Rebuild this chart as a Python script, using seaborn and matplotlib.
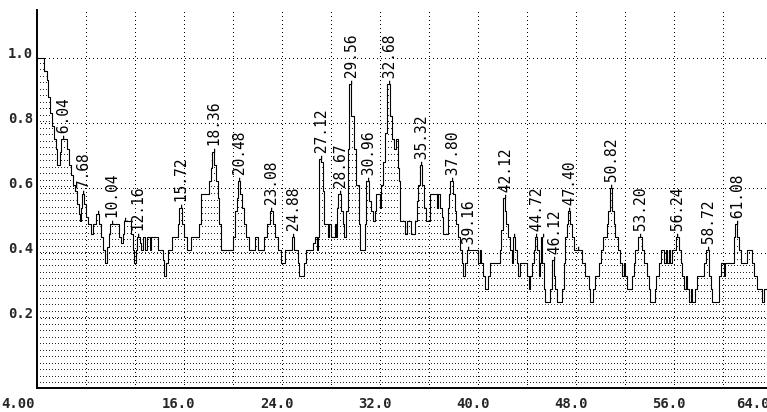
import matplotlib
matplotlib.use("Agg")
import matplotlib.pyplot as plt
import matplotlib.transforms as mtransforms
import numpy as np
import seaborn as sns

# step trace: breakpoint on the x axis and the level held until the next one
lag = [4.00, 4.60, 4.81, 4.92, 5.09, 5.25, 5.41, 5.55, 5.68, 5.90, 6.02, 6.50, 6.61, 6.77,
       6.94, 7.10, 7.26, 7.43, 7.54, 7.62, 7.70, 7.90, 8.02, 8.18, 8.40, 8.62, 8.85, 9.06,
       9.22, 9.44, 9.58, 9.77, 9.93, 10.02, 10.69, 10.85, 11.02, 11.12, 11.67, 11.83, 11.94,
       12.08, 12.16, 12.43, 12.54, 12.65, 12.87, 13.03, 13.25, 13.36, 13.87, 14.28, 14.42,
       14.56, 14.69, 15.05, 15.51, 15.66, 15.86, 16.05, 16.24, 16.60, 17.28, 17.41, 18.09,
       18.23, 18.30, 18.50, 18.64, 18.78, 18.92, 19.05, 20.05, 20.22, 20.35, 20.45, 20.62,
       20.80, 20.95, 21.12, 21.30, 21.85, 22.04, 22.58, 22.77, 23.02, 23.30, 23.48, 23.67,
       23.92, 24.30, 24.82, 25.05, 25.30, 25.45, 25.85, 26.00, 26.55, 26.70, 26.90, 26.97,
       27.08, 27.24, 27.37, 27.50, 27.75, 27.90, 28.05, 28.33, 28.46, 28.55, 28.62, 28.85,
       29.00, 29.12, 29.27, 29.40, 29.48, 29.53, 29.70, 29.92, 30.10, 30.30, 30.42, 30.82,
       30.92, 31.15, 31.30, 31.45, 31.60, 31.72, 32.00, 32.14, 32.30, 32.45, 32.64, 32.86,
       33.05, 33.20, 33.35, 33.50, 33.62, 33.70, 34.07, 34.20, 34.60, 34.88, 35.02, 35.15,
       35.28, 35.47, 35.60, 35.83, 36.10, 36.65, 36.79, 36.92, 37.06, 37.20, 37.60, 37.70,
       37.76, 38.00, 38.14, 38.28, 38.42, 38.56, 38.69, 38.83, 38.96, 39.10, 40.05, 40.19,
       40.32, 40.46, 40.60, 40.87, 41.00, 41.80, 41.95, 42.08, 42.22, 42.36, 42.50, 42.63,
       42.78, 42.90, 43.05, 43.20, 43.33, 43.46, 44.03, 44.16, 44.30, 44.44, 44.57, 44.68,
       44.84, 44.98, 45.12, 45.20, 45.30, 45.39, 45.52, 45.93, 46.06, 46.21, 46.34, 46.48,
       46.88, 47.02, 47.16, 47.29, 47.38, 47.56, 47.70, 47.84, 48.52, 48.78, 49.06, 49.20,
       49.46, 49.60, 49.95, 50.10, 50.25, 50.55, 50.68, 50.78, 50.96, 51.10, 51.23, 51.50,
       51.64, 51.78, 51.92, 52.05, 52.20, 52.60, 52.75, 52.87, 53.12, 53.40, 53.55, 53.85,
       53.99, 54.12, 54.45, 54.61, 54.80, 54.94, 55.20, 55.35, 55.48, 55.62, 55.75, 55.89,
       56.18, 56.44, 56.57, 56.71, 56.85, 56.98, 57.12, 57.25, 57.40, 57.53, 57.72, 57.92,
       58.47, 58.68, 58.88, 59.02, 59.15, 59.70, 59.84, 60.10, 60.24, 60.92, 61.03, 61.20,
       61.33, 61.47, 62.00, 62.40, 62.55, 62.80, 63.20, 63.35, 63.80]
level = [1.00, 0.96, 0.93, 0.88, 0.83, 0.79, 0.75, 0.72, 0.67, 0.71, 0.75, 0.72, 0.67, 0.64,
         0.61, 0.59, 0.55, 0.52, 0.50, 0.54, 0.58, 0.55, 0.51, 0.49, 0.46, 0.49, 0.52, 0.49,
         0.45, 0.41, 0.37, 0.42, 0.46, 0.49, 0.45, 0.43, 0.46, 0.50, 0.46, 0.41, 0.37,
         0.41, 0.45, 0.43, 0.41, 0.45, 0.41, 0.45, 0.41, 0.45, 0.41, 0.38, 0.33,
         0.37, 0.41, 0.45, 0.49, 0.54, 0.49, 0.45, 0.41, 0.45, 0.49, 0.58, 0.62,
         0.66, 0.71, 0.67, 0.62, 0.57, 0.49, 0.41, 0.45, 0.53, 0.57, 0.62, 0.58,
         0.54, 0.49, 0.45, 0.41, 0.45, 0.41, 0.45, 0.49, 0.53, 0.49, 0.45, 0.41,
         0.37, 0.41, 0.45, 0.41, 0.37, 0.33, 0.37, 0.41, 0.43, 0.45, 0.41, 0.45,
         0.69, 0.68, 0.59, 0.49, 0.45, 0.49, 0.45, 0.49, 0.45, 0.54, 0.58, 0.53,
         0.49, 0.45, 0.53, 0.72, 0.84, 0.92, 0.82, 0.72, 0.61, 0.49, 0.41, 0.49,
         0.62, 0.56, 0.53, 0.50, 0.53, 0.58, 0.54, 0.61, 0.68, 0.77, 0.92, 0.82,
         0.75, 0.72, 0.75, 0.66, 0.62, 0.50, 0.46, 0.50, 0.46, 0.50, 0.56, 0.61,
         0.67, 0.61, 0.54, 0.50, 0.58, 0.54, 0.58, 0.54, 0.51, 0.46, 0.54, 0.58,
         0.62, 0.58, 0.53, 0.49, 0.45, 0.41, 0.37, 0.33, 0.37, 0.41, 0.37, 0.41,
         0.37, 0.33, 0.29, 0.33, 0.37, 0.41, 0.47, 0.57, 0.53, 0.49, 0.45, 0.41,
         0.37, 0.45, 0.41, 0.37, 0.33, 0.37, 0.33, 0.29, 0.33, 0.37, 0.41, 0.45,
         0.41, 0.33, 0.37, 0.45, 0.37, 0.29, 0.25, 0.29, 0.38, 0.33, 0.29, 0.25,
         0.29, 0.37, 0.45, 0.49, 0.53, 0.49, 0.45, 0.41, 0.37, 0.33, 0.29, 0.25,
         0.29, 0.33, 0.37, 0.41, 0.45, 0.49, 0.53, 0.60, 0.53, 0.49, 0.45, 0.41,
         0.37, 0.33, 0.37, 0.33, 0.29, 0.33, 0.37, 0.41, 0.45, 0.41, 0.37, 0.33,
         0.29, 0.25, 0.29, 0.33, 0.37, 0.41, 0.37, 0.41, 0.37, 0.41, 0.37, 0.41,
         0.45, 0.41, 0.37, 0.33, 0.29, 0.33, 0.29, 0.25, 0.29, 0.25, 0.29, 0.33,
         0.37, 0.41, 0.33, 0.29, 0.25, 0.33, 0.37, 0.33, 0.37, 0.45, 0.49, 0.45,
         0.41, 0.37, 0.41, 0.37, 0.33, 0.29, 0.25, 0.29, 0.29]

peak_lag = [6.04, 7.68, 10.04, 12.16, 15.72, 18.36, 20.48, 23.08, 24.88, 27.12, 28.67, 29.56,
            30.96, 32.68, 35.32, 37.80, 39.16, 42.12, 44.72, 46.12, 47.40, 50.82, 53.20,
            56.24, 58.72, 61.08]
peak_text = ["6.04", "7.68", "10.04", "12.16", "15.72", "18.36", "20.48", "23.08", "24.88",
             "27.12", "28.67", "29.56", "30.96", "32.68", "35.32", "37.80", "39.16", "42.12",
             "44.72", "46.12", "47.40", "50.82", "53.20", "56.24", "58.72", "61.08"]
# peaks that only got the leader mark
minor_lag = [8.95, 11.13, 42.90, 45.22, 48.10]

xtick_pos = list(range(4, 68, 4))
xtick_text = ["4.00", "", "", "16.0", "", "24.0", "", "32.0", "", "40.0", "", "48.0", "",
              "56.0", "", "64.0"]
ytick_pos = [0.2, 0.4, 0.6, 0.8, 1.0]
ytick_text = ["0.2", "0.4", "0.6", "0.8", "1.0"]

sns.set_style("white")
plt.rcParams["font.family"] = ["DejaVu Sans Mono", "DejaVu Sans"]

fig = plt.figure(figsize=(7.67, 4.12), dpi=100)
ax = fig.add_axes([0.0478, 0.0575, 0.990, 0.918])
XLIM = (4, 66)
YLIM = (-0.015, 1.146)
ax.set_xlim(*XLIM)
ax.set_ylim(*YLIM)

sns.lineplot(x=lag, y=level, ax=ax, drawstyle="steps-post", estimator=None, sort=False,
             color="black", lw=0.8, zorder=5)

# dotted texture under the trace: one dot every 3 px on rows 0.02 apart
under = ax.fill_between(lag, level, -0.02, step="post", facecolor="none", edgecolor="none")
bb = ax.get_window_extent()
w, h = int(round(bb.width)), int(round(bb.height))
tex = np.zeros((h, w, 4))
for ry in np.arange(0, 1.0, 0.02):
    r = int(round((YLIM[1] - ry) / (YLIM[1] - YLIM[0]) * (h - 1)))
    tex[r, ::3, 3] = 0.85
im = ax.imshow(tex, extent=(*XLIM, *YLIM), aspect="auto", interpolation="nearest",
               origin="upper", zorder=1)
im.set_clip_path(under.get_paths()[0], ax.transData)
ax.set_xlim(*XLIM)
ax.set_ylim(*YLIM)

ax.set_xticks(xtick_pos, xtick_text)
ax.set_yticks(ytick_pos, ytick_text)
ax.grid(True, color="black", linewidth=0.72, linestyle=(0, (1, 4)))
for gl in ax.get_xgridlines() + ax.get_ygridlines():
    gl.set_antialiased(False)

for side in ["top", "right"]:
    ax.spines[side].set_visible(False)
for side in ["left", "bottom"]:
    ax.spines[side].set_linewidth(1.4)
    ax.spines[side].set_color("black")

ax.tick_params(axis="x", direction="out", length=5, width=1, color="black", pad=1.5,
               labelsize=10)
ax.tick_params(axis="y", length=0, pad=2.5, labelsize=10)
for t in ax.get_yticklabels():
    t.set_fontweight("bold")
    t.set_va("baseline")
xl = ax.get_xticklabels()
for i, t in enumerate(xl):
    t.set_fontweight("bold")
    dx = -5
    if i == 0 or i == len(xl) - 1:
        t.set_ha("right")
        dx = -2
    t.set_transform(t.get_transform() + mtransforms.ScaledTranslation(dx / 100, 0, fig.dpi_scale_trans))

lag_a = np.array(lag)
level_a = np.array(level)


def top_near(x0, w=0.15):
    right = np.append(lag_a[1:], lag_a[-1])
    hit = (lag_a < x0 + w) & (right > x0 - w)
    return level_a[hit].max()


for px, txt in zip(peak_lag, peak_text):
    ax.text(px, top_near(px), "-" + txt, rotation=90, ha="center", va="bottom",
            fontsize=10.5, color="black", zorder=6)
for px in minor_lag:
    ax.text(px, top_near(px), "-", rotation=90, ha="center", va="bottom",
            fontsize=10.5, color="black", zorder=6)

fig.savefig("out.png", dpi=100)
